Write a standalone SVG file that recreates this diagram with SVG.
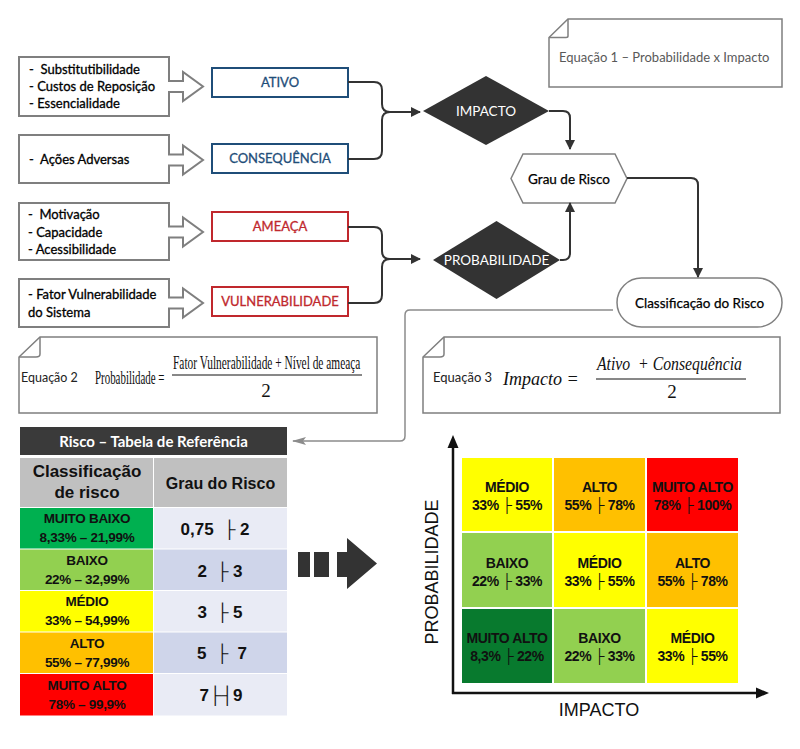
<svg xmlns="http://www.w3.org/2000/svg" width="800" height="749" viewBox="0 0 800 749">
<defs>
<marker id="ah" viewBox="0 0 10 10" refX="9" refY="5" markerWidth="10" markerHeight="10" markerUnits="userSpaceOnUse" orient="auto"><path d="M0,0 L10,5 L0,10 Z" fill="#333"/></marker>
<marker id="ahg" viewBox="0 0 14 8" refX="13" refY="4" markerWidth="14" markerHeight="8" markerUnits="userSpaceOnUse" orient="auto"><path d="M0,0 L14,4 L0,8 L3,4 Z" fill="#8c8c8c"/></marker>
<style>
.src{fill:#fff;stroke:#7f7f7f;stroke-width:2}
.lt{font-family:Lato,"Liberation Sans",sans-serif;font-size:13px;fill:#000;stroke:#000;stroke-width:0.3;white-space:pre}
.blue{fill:#fff;stroke:#1f4e79;stroke-width:2}
.red{fill:#fff;stroke:#c0282d;stroke-width:2}
.bt{font-family:Lato,"Liberation Sans",sans-serif;font-size:13px;fill:#1f4e79;stroke:#1f4e79;stroke-width:0.3;text-anchor:middle}
.rt{font-family:Lato,"Liberation Sans",sans-serif;font-size:13px;fill:#c0282d;stroke:#c0282d;stroke-width:0.3;text-anchor:middle}
.dia{fill:#333}
.wt{font-family:Lato,"Liberation Sans",sans-serif;font-size:13.5px;fill:#fff;text-anchor:middle}
.kt{font-family:Lato,"Liberation Sans",sans-serif;font-size:13.5px;fill:#000;stroke:#000;stroke-width:0.25;text-anchor:middle}
.note{fill:#fff;stroke:#7f7f7f;stroke-width:1.5}
.fold{fill:none;stroke:#7f7f7f;stroke-width:1.5}
.eql{font-family:Lato,"Liberation Sans",sans-serif;fill:#222}
.ser{font-family:"Liberation Serif",serif;font-size:19px;fill:#111;white-space:pre}
.it{font-family:"Liberation Serif",serif;font-style:italic;font-size:19px;fill:#111;white-space:pre}
.con{fill:none;stroke:#333;stroke-width:2}
.cg{fill:none;stroke:#8c8c8c;stroke-width:1.5}
.th{font-family:"Liberation Sans",Arial,sans-serif;font-weight:bold;fill:#111;text-anchor:middle}
.tc{font-family:"Liberation Sans",Arial,sans-serif;font-weight:bold;font-size:13.5px;letter-spacing:-0.3px;fill:#111;text-anchor:middle}
.tv{font-family:"Liberation Sans","DejaVu Sans",sans-serif;font-weight:bold;font-size:17px;fill:#111;text-anchor:middle;white-space:pre}
.mc{font-family:"Liberation Sans","DejaVu Sans",sans-serif;font-weight:bold;font-size:14px;letter-spacing:-0.4px;fill:#111;text-anchor:middle}
.ax{font-family:"Liberation Sans",Arial,sans-serif;font-size:18px;fill:#111;text-anchor:middle}
</style>
</defs>
<rect width="800" height="749" fill="#fff"/>

<g id="src-ativo">
<path class="src" d="M19,57 H169 V81 H183 V72 L203,86.5 L183,101 V92 H169 V116 H19 Z"/>
<text class="lt" x="29" y="74">-  Substitutibilidade</text>
<text class="lt" x="29" y="91">- Custos de Reposição</text>
<text class="lt" x="29" y="108">- Essencialidade</text>
</g>
<g id="src-consequencia">
<path class="src" d="M19,135 H169 V154.5 H183 V145.5 L203,160 L183,174.5 V165.5 H169 V183 H19 Z"/>
<text class="lt" x="29" y="164">-  Ações Adversas</text>
</g>
<g id="src-ameaca">
<path class="src" d="M19,203 H169 V226.5 H183 V217.5 L203,232 L183,246.5 V237.5 H169 V260 H19 Z"/>
<text class="lt" x="28" y="219">-  Motivação</text>
<text class="lt" x="28" y="237">- Capacidade</text>
<text class="lt" x="28" y="254">- Acessibilidade</text>
</g>
<g id="src-vulnerabilidade">
<path class="src" d="M19,279 H169 V297.5 H183 V288.5 L203,303 L183,317.5 V308.5 H169 V327 H19 Z"/>
<text class="lt" x="28" y="299">- Fator Vulnerabilidade</text>
<text class="lt" x="28" y="317">do Sistema</text>
</g>

<g id="ativo"><rect class="blue" x="212" y="68" width="136" height="29"/><text class="bt" x="280" y="87">ATIVO</text></g>
<g id="consequencia"><rect class="blue" x="212" y="144" width="136" height="29"/><text class="bt" x="280" y="163">CONSEQUÊNCIA</text></g>
<g id="ameaca"><rect class="red" x="212" y="212" width="136" height="29"/><text class="rt" x="280" y="231">AMEAÇA</text></g>
<g id="vulnerabilidade"><rect class="red" x="212" y="287" width="136" height="29"/><text class="rt" x="280" y="306">VULNERABILIDADE</text></g>

<g id="impacto"><path class="dia" d="M423,111 L486,76 L549,111 L486,145 Z"/><text class="wt" x="486" y="116">IMPACTO</text></g>
<g id="probabilidade"><path class="dia" d="M433,260 L496.5,221 L560,260 L496.5,299 Z"/><text class="wt" x="496.5" y="265">PROBABILIDADE</text></g>
<g id="grau-de-risco"><path d="M511,178.5 L523,154 L615,154 L627,178.5 L615,203 L523,203 Z" fill="#fff" stroke="#808080" stroke-width="1.5"/><text class="kt" x="569" y="183.5">Grau de Risco</text></g>
<g id="classificacao"><rect x="617" y="278" width="165" height="49" rx="24.5" fill="#fff" stroke="#808080" stroke-width="1.5"/><text class="kt" x="699.5" y="308">Classificação do Risco</text></g>

<g id="eq1">
<path class="note" d="M568,19 H782 V87 H549 V37.5 Z"/>
<path class="fold" d="M568,19 V36 Q568,37.5 566,37.5 H549"/>
<text x="559" y="62" font-family="Lato,'Liberation Sans',sans-serif" font-size="13" fill="#595959">Equação 1 – Probabilidade x Impacto</text>
</g>
<g id="eq2">
<path class="note" d="M40,337 H377 V413 H19 V357 Z"/>
<path class="fold" d="M40,337 V354 Q40,357 36,357 H19"/>
<text class="eql" font-size="12.5" x="21" y="382">Equação 2</text>
<text class="ser" transform="translate(95,384) scale(0.575,1)">Probabilidade =</text>
<text class="ser" transform="translate(173,369) scale(0.6,1)">Fator Vulnerabilidade + Nível de ameaça</text>
<line x1="172" y1="375" x2="362" y2="375" stroke="#111" stroke-width="1"/>
<text class="ser" x="266" y="397" text-anchor="middle">2</text>
</g>
<g id="eq3">
<path class="note" d="M444,337 H780 V413 H423 V357 Z"/>
<path class="fold" d="M444,337 V354 Q444,357 440,357 H423"/>
<text class="eql" font-size="13" x="433" y="382">Equação 3</text>
<text class="it" transform="translate(503,385) scale(0.95,1)">Impacto =</text>
<text class="it" transform="translate(597,370) scale(0.83,1)">Ativo  + Consequência</text>
<line x1="596" y1="379" x2="746" y2="379" stroke="#111" stroke-width="1"/>
<text class="ser" x="672" y="398" text-anchor="middle">2</text>
</g>

<g id="connectors">
<path class="con" d="M348,82 H374 Q382,82 382,90 V104 Q382,112 390,112 H420" marker-end="url(#ah)"/>
<path class="con" d="M348,159 H374 Q382,159 382,151 V120 Q382,112 390,112"/>
<path class="con" d="M348,227 H374 Q382,227 382,235 V251 Q382,259 390,259 H420" marker-end="url(#ah)"/>
<path class="con" d="M348,303 H374 Q382,303 382,295 V267 Q382,259 390,259"/>
<path class="con" d="M549,111 H563 Q570,111 570,118 V149" marker-end="url(#ah)"/>
<path class="con" d="M560,260 H563 Q570,260 570,253 V203" marker-end="url(#ah)"/>
<path class="con" d="M627,178 H691 Q698,178 698,185 V277" marker-end="url(#ah)"/>
<path class="cg" d="M613,310 H410 Q405,310 405,315 V436 Q405,441 400,441 H293" marker-end="url(#ahg)"/>
</g>

<g id="tabela">
<rect x="20" y="427" width="267" height="28" fill="#3a3a3a"/>
<text x="153.5" y="447" font-family="Lato,'Liberation Sans',sans-serif" font-weight="bold" font-size="15" fill="#fff" text-anchor="middle">Risco – Tabela de Referência</text>
<rect x="20" y="458" width="133" height="49" fill="#c0c0c0"/>
<rect x="154" y="458" width="133" height="49" fill="#c0c0c0"/>
<text class="th" font-size="17" x="87" y="477">Classificação</text>
<text class="th" font-size="17" x="87" y="498">de risco</text>
<text class="th" font-size="16" x="220.5" y="489">Grau do Risco</text>

<rect x="20" y="508" width="133" height="40.5" fill="#00b050"/>
<rect x="154" y="508" width="133" height="40.5" fill="#e9ebf5"/>
<text class="tc" x="87" y="523">MUITO BAIXO</text>
<text class="tc" x="87" y="542">8,33% – 21,99%</text>
<text class="tv" x="215" y="535">0,75  ├ 2</text>

<rect x="20" y="549.5" width="133" height="40.5" fill="#92d050"/>
<rect x="154" y="549.5" width="133" height="40.5" fill="#cfd5ea"/>
<text class="tc" x="87" y="565">BAIXO</text>
<text class="tc" x="87" y="584">22%  –  32,99%</text>
<text class="tv" x="220" y="577">2  ├ 3</text>

<rect x="20" y="591" width="133" height="40.5" fill="#ffff00"/>
<rect x="154" y="591" width="133" height="40.5" fill="#e9ebf5"/>
<text class="tc" x="87" y="606">MÉDIO</text>
<text class="tc" x="87" y="625">33%  –  54,99%</text>
<text class="tv" x="220" y="618">3  ├ 5</text>

<rect x="20" y="632.5" width="133" height="40.5" fill="#ffc000"/>
<rect x="154" y="632.5" width="133" height="40.5" fill="#cfd5ea"/>
<text class="tc" x="87" y="648">ALTO</text>
<text class="tc" x="87" y="667">55%  –  77,99%</text>
<text class="tv" x="222" y="659">5  ├  7</text>

<rect x="20" y="674" width="133" height="41.5" fill="#ff0000"/>
<rect x="154" y="674" width="133" height="41.5" fill="#e9ebf5"/>
<text class="tc" x="87" y="690">MUITO ALTO</text>
<text class="tc" x="87" y="709">78%  –  99,9%</text>
<text class="tv" x="221" y="701">7├┤9</text>
</g>

<g id="seta-tracejada" fill="#333">
<rect x="298" y="552" width="12" height="25"/>
<rect x="314" y="552" width="15" height="25"/>
<path d="M337,552 H347 V538 L377,563.5 L347,589 V577 H337 Z"/>
</g>

<g id="matriz">
<rect x="462" y="458" width="90" height="73" fill="#ffff00"/>
<rect x="554" y="458" width="91" height="73" fill="#ffc000"/>
<rect x="647" y="458" width="91" height="73" fill="#ff0000"/>
<rect x="462" y="533" width="90" height="74" fill="#92d050"/>
<rect x="554" y="533" width="91" height="74" fill="#ffff00"/>
<rect x="647" y="533" width="91" height="74" fill="#ffc000"/>
<rect x="462" y="609" width="90" height="74" fill="#087a2e"/>
<rect x="554" y="609" width="91" height="74" fill="#92d050"/>
<rect x="647" y="609" width="91" height="74" fill="#ffff00"/>
<text class="mc" x="507" y="492">MÉDIO</text><text class="mc" x="507" y="510">33% ├ 55%</text>
<text class="mc" x="599.5" y="492">ALTO</text><text class="mc" x="599.5" y="510">55% ├ 78%</text>
<text class="mc" x="692.5" y="492">MUITO ALTO</text><text class="mc" x="692.5" y="510">78% ├ 100%</text>
<text class="mc" x="507" y="568">BAIXO</text><text class="mc" x="507" y="586">22% ├ 33%</text>
<text class="mc" x="599.5" y="568">MÉDIO</text><text class="mc" x="599.5" y="586">33% ├ 55%</text>
<text class="mc" x="692.5" y="568">ALTO</text><text class="mc" x="692.5" y="586">55% ├ 78%</text>
<text class="mc" x="507" y="643">MUITO ALTO</text><text class="mc" x="507" y="661">8,3% ├ 22%</text>
<text class="mc" x="599.5" y="643">BAIXO</text><text class="mc" x="599.5" y="661">22% ├ 33%</text>
<text class="mc" x="692.5" y="643">MÉDIO</text><text class="mc" x="692.5" y="661">33% ├ 55%</text>
<path d="M453,694 V446" stroke="#111" stroke-width="2.5" fill="none"/>
<path d="M447.5,448 L453,435 L458.5,448 Z" fill="#111"/>
<path d="M452,693 H758" stroke="#111" stroke-width="2.5" fill="none"/>
<path d="M756,687.5 L769,693 L756,698.5 Z" fill="#111"/>
<text class="ax" font-size="19" transform="translate(438,572) rotate(-90)">PROBABILIDADE</text>
<text class="ax" x="599" y="716">IMPACTO</text>
</g>
</svg>
